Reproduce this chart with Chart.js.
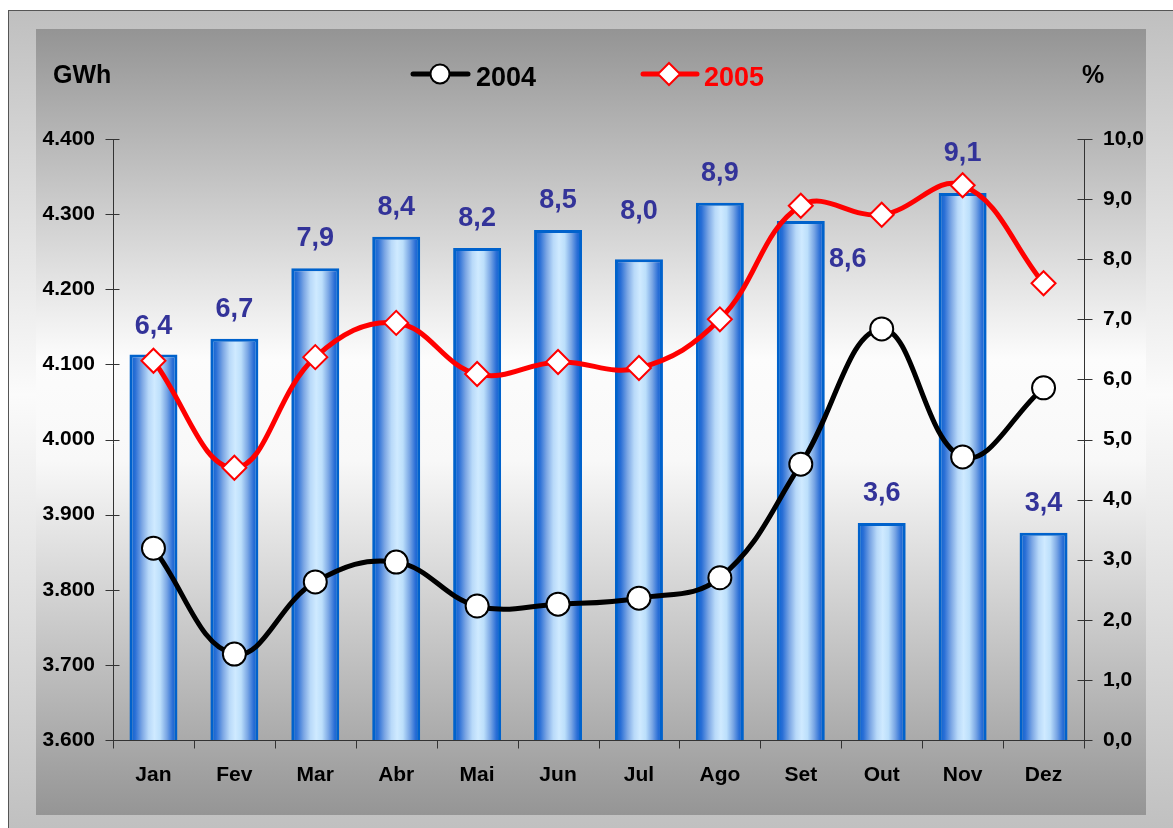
<!DOCTYPE html>
<html>
<head>
<meta charset="utf-8">
<script src="https://cdn.jsdelivr.net/npm/chart.js@4.4.1/dist/chart.umd.min.js"></script>
<style>
  html, body { margin: 0; padding: 0; background: #fff; }
  #grafico { display: block; }
</style>
</head>
<body>
<canvas id="grafico" width="1173" height="828"></canvas>
<script>
// dados
var meses = ["Jan", "Fev", "Mar", "Abr", "Mai", "Jun", "Jul", "Ago", "Set", "Out", "Nov", "Dez"];
var consumoGWh = [4113, 4134, 4228, 4270, 4255, 4279, 4240, 4315, 4291, 3889, 4328, 3876];
var crescimento = [6.4, 6.7, 7.9, 8.4, 8.2, 8.5, 8.0, 8.9, 8.6, 3.6, 9.1, 3.4];
var taxa2004 = [3.19, 1.43, 2.63, 2.96, 2.23, 2.26, 2.36, 2.70, 4.59, 6.84, 4.71, 5.86];
var taxa2005 = [6.31, 4.53, 6.37, 6.94, 6.09, 6.29, 6.19, 7.00, 8.89, 8.74, 9.23, 7.60];

// deslocamento dos rotulos (px) em relacao ao topo da barra
var ajusteRotulo = [
  [0, -21], [0, -22], [0, -22], [0, -22], [0, -22], [0, -22],
  [0, -40], [0, -22], [47, 46], [0, -22], [0, -32], [0, -22]
];

var fonte = '"Liberation Sans", Arial, sans-serif';
var azulRotulo = "#333399";

function gradienteBarra(context) {
  var chart = context.chart;
  var xs = chart.scales.x;
  if (!chart.chartArea || !xs) return "#7fb0ea";
  var cx = xs.getPixelForValue(context.dataIndex);
  var w = (xs.width / meses.length) * 0.593;
  var g = chart.ctx.createLinearGradient(cx - w / 2, 0, cx + w / 2, 0);
  g.addColorStop(0, "#0060d0");
  g.addColorStop(0.12, "#2a6fd6");
  g.addColorStop(0.26, "#7ba6e4");
  g.addColorStop(0.4, "#b8d9f9");
  g.addColorStop(0.52, "#cfeaff");
  g.addColorStop(0.64, "#bcdffb");
  g.addColorStop(0.78, "#78a5e4");
  g.addColorStop(0.9, "#2a6ed6");
  g.addColorStop(1, "#0060d0");
  return g;
}

var fundoPlugin = {
  id: "fundo",
  beforeDraw: function (chart) {
    var ctx = chart.ctx;
    ctx.save();
    ctx.fillStyle = "#ffffff";
    ctx.fillRect(0, 0, chart.width, chart.height);

    var g1 = ctx.createLinearGradient(0, 10, 0, 828);
    g1.addColorStop(0, "#bfbfbf");
    g1.addColorStop(0.47, "#fbfbfb");
    g1.addColorStop(1, "#c0c0c0");
    ctx.fillStyle = g1;
    ctx.fillRect(8, 10, chart.width - 8, chart.height - 10);
    ctx.strokeStyle = "#555";
    ctx.lineWidth = 1;
    ctx.strokeRect(8.5, 10.5, chart.width, chart.height);

    var g2 = ctx.createLinearGradient(0, 29, 0, 815);
    g2.addColorStop(0, "#949494");
    g2.addColorStop(0.42, "#fcfcfc");
    g2.addColorStop(0.55, "#f8f8f8");
    g2.addColorStop(1, "#959595");
    ctx.fillStyle = g2;
    ctx.fillRect(36, 29, 1110, 786);
    ctx.restore();
  }
};

var eixosPlugin = {
  id: "eixos",
  beforeDatasetsDraw: function (chart) {
    var ctx = chart.ctx;
    var a = chart.chartArea;
    var ys = chart.scales.y, ys1 = chart.scales.y1;
    var xl = Math.round(a.left) + 0.5, xr = Math.round(a.right) + 0.5, yb = Math.round(a.bottom) + 0.5;
    ctx.save();
    ctx.strokeStyle = "#333";
    ctx.lineWidth = 1;
    ctx.beginPath();
    ctx.moveTo(xl, a.top); ctx.lineTo(xl, yb + 8);
    ctx.moveTo(xr, a.top); ctx.lineTo(xr, yb + 8);
    ctx.moveTo(xl, yb); ctx.lineTo(xr, yb);
    ys.ticks.forEach(function (t) {
      var py = Math.round(ys.getPixelForValue(t.value)) + 0.5;
      ctx.moveTo(xl - 8, py); ctx.lineTo(xl + 6, py);
    });
    ys1.ticks.forEach(function (t) {
      var py = Math.round(ys1.getPixelForValue(t.value)) + 0.5;
      ctx.moveTo(xr - 7, py); ctx.lineTo(xr + 8, py);
    });
    var passo = a.width / meses.length;
    for (var i = 1; i < meses.length; i++) {
      var px = Math.round(a.left + i * passo) + 0.5;
      ctx.moveTo(px, yb); ctx.lineTo(px, yb + 8);
    }
    ctx.stroke();
    ctx.restore();
  },
  afterDatasetsDraw: function (chart) {
    var ctx = chart.ctx;
    var barras = chart.getDatasetMeta(0).data;
    ctx.save();
    ctx.font = "bold 27px " + fonte;
    ctx.fillStyle = azulRotulo;
    ctx.textAlign = "center";
    ctx.textBaseline = "alphabetic";
    barras.forEach(function (b, i) {
      var txt = crescimento[i].toFixed(1).replace(".", ",");
      ctx.fillText(txt, b.x + ajusteRotulo[i][0], b.y + ajusteRotulo[i][1]);
    });
    ctx.restore();
  },
  afterDraw: function (chart) {
    var ctx = chart.ctx;
    ctx.save();
    ctx.fillStyle = "#000";
    ctx.textBaseline = "alphabetic";
    ctx.font = "bold 25px " + fonte;
    ctx.textAlign = "left";
    ctx.fillText("GWh", 53, 83);
    ctx.fillText("%", 1082, 83);

    // legenda
    ctx.lineCap = "round";
    ctx.lineWidth = 5;
    ctx.strokeStyle = "#000";
    ctx.beginPath(); ctx.moveTo(413, 74); ctx.lineTo(468, 74); ctx.stroke();
    ctx.lineWidth = 2;
    ctx.fillStyle = "#fff";
    ctx.beginPath(); ctx.arc(440, 74, 9.5, 0, Math.PI * 2); ctx.fill(); ctx.stroke();
    ctx.font = "bold 27px " + fonte;
    ctx.fillStyle = "#000";
    ctx.fillText("2004", 476, 86);

    ctx.lineWidth = 5;
    ctx.strokeStyle = "#ff0000";
    ctx.beginPath(); ctx.moveTo(643, 74); ctx.lineTo(697, 74); ctx.stroke();
    ctx.lineWidth = 2;
    ctx.fillStyle = "#fff";
    ctx.beginPath();
    ctx.moveTo(669, 63); ctx.lineTo(680, 74); ctx.lineTo(669, 85); ctx.lineTo(658, 74); ctx.closePath();
    ctx.fill(); ctx.stroke();
    ctx.fillStyle = "#ff0000";
    ctx.fillText("2005", 704, 86);
    ctx.restore();
  }
};

var ctx = document.getElementById("grafico").getContext("2d");

var grafico = new Chart(ctx, {
  data: {
    labels: meses,
    datasets: [
      {
        type: "bar",
        label: "GWh",
        data: consumoGWh,
        yAxisID: "y",
        order: 3,
        backgroundColor: gradienteBarra,
        borderColor: "#0062cc",
        borderWidth: 3,
        borderSkipped: false,
        barPercentage: 0.593,
        categoryPercentage: 1
      },
      {
        type: "line",
        label: "2004",
        data: taxa2004,
        yAxisID: "y1",
        order: 2,
        borderColor: "#000000",
        borderWidth: 5,
        tension: 0.4,
        pointStyle: "circle",
        pointRadius: 11.5,
        pointBorderWidth: 2,
        pointBackgroundColor: "#ffffff",
        pointBorderColor: "#000000"
      },
      {
        type: "line",
        label: "2005",
        data: taxa2005,
        yAxisID: "y1",
        order: 1,
        borderColor: "#ff0000",
        borderWidth: 5,
        tension: 0.4,
        pointStyle: "rectRot",
        pointRadius: 12,
        pointBorderWidth: 2,
        pointBackgroundColor: "#ffffff",
        pointBorderColor: "#ff0000"
      }
    ]
  },
  options: {
    responsive: false,
    animation: false,
    devicePixelRatio: 1,
    layout: { padding: { top: 139, left: 0, right: 0, bottom: 0 } },
    plugins: {
      legend: { display: false },
      tooltip: { enabled: false }
    },
    scales: {
      x: {
        grid: { display: false, drawTicks: false },
        border: { display: false },
        ticks: {
          padding: 23,
          color: "#000",
          font: { family: fonte, size: 21, weight: "bold" }
        },
        afterFit: function (s) { s.height = 88; }
      },
      y: {
        position: "left",
        min: 3600,
        max: 4400,
        grid: { display: false, drawTicks: false },
        border: { display: false },
        ticks: {
          stepSize: 100,
          padding: 18,
          color: "#000",
          font: { family: fonte, size: 21, weight: "bold" },
          callback: function (v) {
            var mil = Math.floor(v / 1000);
            var resto = String(v % 1000).padStart(3, "0");
            return mil + "." + resto;
          }
        },
        afterFit: function (s) { s.width = 113; }
      },
      y1: {
        position: "right",
        min: 0,
        max: 10,
        grid: { display: false, drawTicks: false },
        border: { display: false },
        ticks: {
          stepSize: 1,
          padding: 19,
          color: "#000",
          font: { family: fonte, size: 21, weight: "bold" },
          callback: function (v) { return v.toFixed(1).replace(".", ","); }
        },
        afterFit: function (s) { s.width = 89; }
      }
    }
  },
  plugins: [fundoPlugin, eixosPlugin]
});
</script>
</body>
</html>
